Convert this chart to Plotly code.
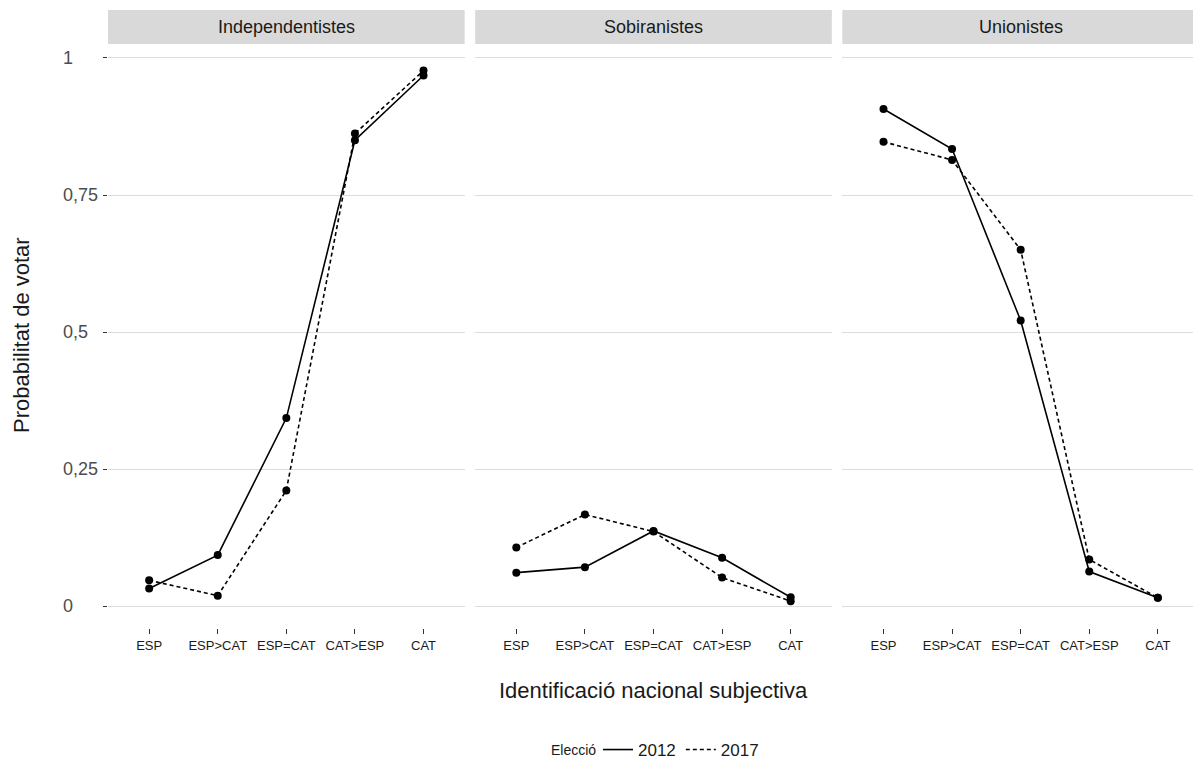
import plotly.graph_objects as go
from plotly.subplots import make_subplots

categories = ["ESP", "ESP>CAT", "ESP=CAT", "CAT>ESP", "CAT"]
panels = ["Independentistes", "Sobiranistes", "Unionistes"]
years = ["2012", "2017"]

indep_2012 = [0.032, 0.093, 0.343, 0.850, 0.968]
indep_2017 = [0.047, 0.019, 0.211, 0.862, 0.977]
sobir_2012 = [0.061, 0.071, 0.137, 0.088, 0.016]
sobir_2017 = [0.107, 0.167, 0.136, 0.052, 0.009]
union_2012 = [0.907, 0.834, 0.521, 0.063, 0.015]
union_2017 = [0.847, 0.814, 0.650, 0.085, 0.015]

y_tickvals = [0, 0.25, 0.5, 0.75, 1]
y_ticktext = ["0", "0,25", "0,5", "0,75", "1"]

series = {
    "Independentistes": {"2012": indep_2012, "2017": indep_2017},
    "Sobiranistes": {"2012": sobir_2012, "2017": sobir_2017},
    "Unionistes": {"2012": union_2012, "2017": union_2017},
}
dash_of = {"2012": "solid", "2017": "4px,3px"}

FONT = "Liberation Sans, Arial, sans-serif"
OFF = 8  # page body margin
W, H = 1201 - OFF, 763 - OFF
# plot area in screen pixels: x 108..1199, y 44..628
L = 108 - OFF
R = W - (1199 - OFF)
T = 44 - OFF
B = H - (628 - OFF)
PW, PH = W - L - R, H - T - B


def px_x(sx):
    return (sx - OFF - L) / PW


def px_y(sy):
    return 1 - (sy - OFF - T) / PH


fig = make_subplots(rows=1, cols=3, shared_yaxes=True, horizontal_spacing=10.5 / PW)

for ci, p in enumerate(panels, start=1):
    for yr in years:
        fig.add_trace(go.Scatter(
            x=categories, y=series[p][yr], mode="lines+markers",
            line=dict(color="black", width=1.6, dash=dash_of[yr]),
            marker=dict(color="black", size=8),
            showlegend=False, hoverinfo="x+y", name=yr,
        ), row=1, col=ci)

# legend-only traces
for yr in years:
    fig.add_trace(go.Scatter(
        x=[None], y=[None], mode="lines", name=yr,
        line=dict(color="black", width=1.6, dash=dash_of[yr]),
        showlegend=True,
    ), row=1, col=1)

for ci in range(1, 4):
    fig.update_xaxes(
        row=1, col=ci, type="category", categoryorder="array", categoryarray=categories,
        range=[-0.6, 4.6], showgrid=False, zeroline=False, showline=False,
        ticks="outside", ticklen=5, tickwidth=1, tickcolor="#333333",
        tickfont=dict(family=FONT, size=13, color="#1a1a1a"),
    )
    fig.update_yaxes(
        row=1, col=ci, range=[-0.04, 1.0255], tickvals=y_tickvals, ticktext=y_ticktext,
        showticklabels=False,
        showgrid=True, gridcolor="#dcdcdc", gridwidth=1.4, zeroline=False, showline=False,
    )

fig.update_yaxes(row=1, col=1, ticks="outside", ticklen=4, tickwidth=1, tickcolor="#333333")

annotations = []
# y tick labels (left-aligned as in the reference)
for v, t in zip(y_tickvals, y_ticktext):
    annotations.append(dict(text=t, xref="paper", yref="y", x=px_x(61), y=v,
                            showarrow=False, xanchor="left", yanchor="middle",
                            font=dict(family=FONT, size=18, color="#4d4d4d")))

strip_h = 34 / PH
for ci, p in enumerate(panels, start=1):
    xa = fig.layout["xaxis" if ci == 1 else f"xaxis{ci}"]
    d0, d1 = xa.domain
    fig.add_shape(type="rect", xref="paper", yref="paper", x0=d0, x1=d1, y0=1, y1=1 + strip_h,
                  fillcolor="#d9d9d9", line=dict(width=0), layer="below")
    annotations.append(dict(text=p, xref="paper", yref="paper", x=(d0 + d1) / 2, y=1 + strip_h / 2,
                            showarrow=False, font=dict(family=FONT, size=18, color="#1a1a1a"),
                            xanchor="center", yanchor="middle"))

annotations.append(dict(text="Identificació nacional subjectiva", xref="paper", yref="paper",
                        x=0.5, y=px_y(690), showarrow=False,
                        font=dict(family=FONT, size=22, color="#1a1a1a"),
                        xanchor="center", yanchor="middle"))
annotations.append(dict(text="Probabilitat de votar", xref="paper", yref="paper",
                        x=px_x(21), y=px_y(335), showarrow=False, textangle=-90,
                        font=dict(family=FONT, size=22, color="#1a1a1a"),
                        xanchor="center", yanchor="middle"))
annotations.append(dict(text="Elecció", xref="paper", yref="paper",
                        x=px_x(598), y=px_y(750), showarrow=False,
                        font=dict(family=FONT, size=14, color="#1a1a1a"),
                        xanchor="right", yanchor="middle"))

fig.update_layout(
    width=W, height=H, margin=dict(l=L, r=R, t=T, b=B, autoexpand=False),
    plot_bgcolor="white", paper_bgcolor="white",
    annotations=annotations,
    showlegend=True,
    legend=dict(orientation="h", x=px_x(598), xanchor="left",
                y=px_y(750), yanchor="middle",
                font=dict(family=FONT, size=17, color="#1a1a1a"),
                itemwidth=30, tracegroupgap=0, bgcolor="rgba(0,0,0,0)"),
    font=dict(family=FONT),
)

fig.write_html("out.html")
